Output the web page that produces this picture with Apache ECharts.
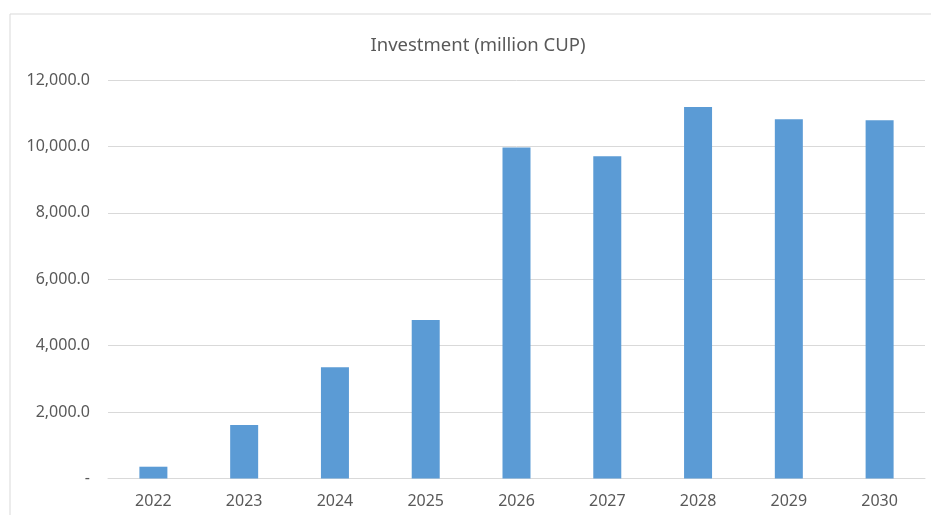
<!DOCTYPE html>
<html>
<head>
<meta charset="utf-8">
<script src="https://cdn.jsdelivr.net/npm/echarts@6/dist/echarts.min.js"></script>
<style>
html,body{margin:0;padding:0;background:#fff;}
#chart{width:931px;height:515px;}
</style>
</head>
<body>
<div id="chart"></div>
<script>
var categories = ['2022','2023','2024','2025','2026','2027','2028','2029','2030'];
var investment = [355, 1610, 3350, 4775, 9965, 9705, 11190, 10820, 10790];
var yTicks = [0, 2000, 4000, 6000, 8000, 10000, 12000];

var chart = echarts.init(document.getElementById('chart'));
chart.setOption({
  animation: false,
  backgroundColor: '#fff',
  title: {
    text: 'Investment (million CUP)',
    left: 473, top: 31, textAlign: 'center',
    textStyle: {fontFamily: 'Noto Sans', fontSize: 18.5, fontWeight: 'normal', color: '#595959'}
  },
  graphic: [{
    type: 'rect', shape: {x: 10, y: 14, width: 940, height: 520},
    style: {fill: 'none', stroke: '#d9d9d9', lineWidth: 1}, silent: true
  }],
  grid: {left: 108, right: 6, top: 80, bottom: 36.5, containLabel: false},
  xAxis: {
    type: 'category', data: categories,
    axisLine: {lineStyle: {color: '#d9d9d9'}},
    axisTick: {show: false},
    axisLabel: {fontFamily: 'Noto Sans', fontSize: 16, color: '#595959', margin: 15}
  },
  yAxis: {
    type: 'value', min: 0, max: 12000, interval: 2000,
    axisLine: {show: false}, axisTick: {show: false},
    splitLine: {lineStyle: {color: '#d9d9d9'}},
    axisLabel: {
      fontFamily: 'Noto Sans', fontSize: 16, color: '#595959', margin: 18,
      formatter: function (v) {
        if (yTicks.indexOf(v) < 0) return '';
        if (v === 0) return '-';
        return v.toLocaleString('en-US', {minimumFractionDigits: 1, maximumFractionDigits: 1});
      }
    }
  },
  series: [{
    type: 'bar', data: investment, barWidth: 28,
    itemStyle: {color: '#5b9bd5'}
  }]
});
</script>
</body>
</html>
